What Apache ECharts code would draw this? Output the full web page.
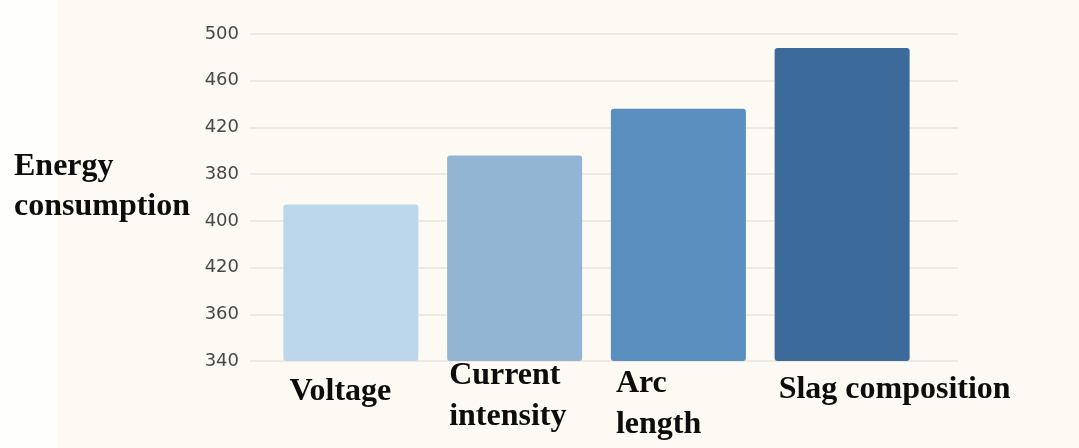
<!DOCTYPE html>
<html>
<head>
<meta charset="utf-8">
<script src="https://cdn.jsdelivr.net/npm/echarts@6/dist/echarts.min.js"></script>
<style>
  html, body { margin: 0; padding: 0; background: #fdf9f3; }
  #chart { width: 1079px; height: 448px; }
</style>
</head>
<body>
<div id="chart"></div>
<script>
// Factors and their energy consumption
const categories = ['Voltage', 'Current\nintensity', 'Arc\nlength', 'Slag composition'];
const energyValues = [407, 428, 448, 474];
const barColors = ['#bcd7ec', '#93b5d4', '#5a8ebf', '#3c6b9b'];
// Tick labels printed up the value axis, bottom to top
const tickLabels = ['340', '360', '420', '400', '380', '420', '460', '500'];
// Per-label nudges below each bar [dx, dy]
const labelNudges = [[6, 10], [2, -6], [5, 2], [4, 8]];

const axisMin = 340, axisStep = 20, axisMax = axisMin + axisStep * (tickLabels.length - 1);

const chart = echarts.init(document.getElementById('chart'), null, { renderer: 'canvas' });

const serif = '"Liberation Serif", "Times New Roman", serif';

chart.setOption({
  backgroundColor: '#fdf9f3',
  animation: false,
  graphic: [
    { type: 'rect', left: 0, top: 0, shape: { width: 58, height: 448 }, style: { fill: '#fefefc' }, z: -10 },
    {
      type: 'text', left: 14, top: 147,
      style: {
        text: 'Energy\nconsumption',
        font: 'bold 32px ' + serif,
        lineHeight: 40,
        fill: '#0d0d0d'
      }
    }
  ],
  grid: [
    { left: 250, right: 121, top: 34, bottom: 87 },
    { left: 269, right: 155, top: 34, bottom: 87 }
  ],
  xAxis: [
    { type: 'category', gridIndex: 0, data: categories, show: false },
    {
      type: 'category', gridIndex: 1, data: categories,
      axisLine: { show: false }, axisTick: { show: false }, axisLabel: { show: false }
    }
  ],
  yAxis: [
    {
      type: 'value', gridIndex: 0, min: axisMin, max: axisMax, interval: axisStep,
      axisLine: { show: false }, axisTick: { show: false },
      splitLine: { lineStyle: { color: '#efe9e1', width: 2 } },
      axisLabel: {
        margin: 11,
        color: '#484848',
        fontFamily: '"DejaVu Sans", sans-serif',
        fontSize: 18,
        padding: [6, 0, 0, 0],
        formatter: v => tickLabels[Math.round((v - axisMin) / axisStep)]
      }
    },
    {
      type: 'value', gridIndex: 1, min: axisMin, max: axisMax, interval: axisStep,
      show: false, splitLine: { show: false }
    }
  ],
  series: [{
    type: 'bar',
    xAxisIndex: 1,
    yAxisIndex: 1,
    barWidth: 135,
    data: energyValues.map((v, i) => ({
      value: v,
      itemStyle: { color: barColors[i], borderRadius: 3 },
      label: { offset: labelNudges[i] }
    })),
    label: {
      show: true,
      position: [0, '100%'],
      align: 'left',
      verticalAlign: 'top',
      formatter: p => categories[p.dataIndex],
      fontFamily: serif,
      fontWeight: 'bold',
      fontSize: 32,
      lineHeight: 41,
      color: '#0d0d0d'
    }
  }]
});
</script>
</body>
</html>
